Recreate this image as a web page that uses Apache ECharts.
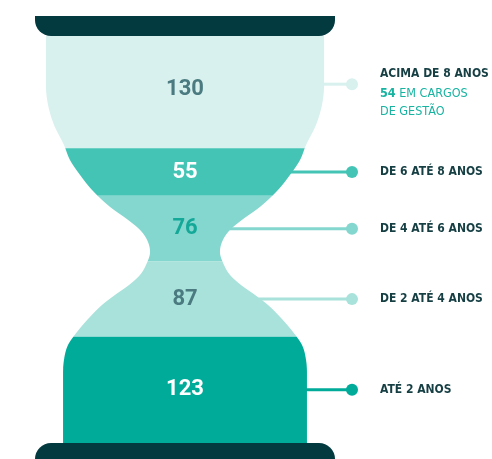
<!DOCTYPE html>
<html>
<head>
<meta charset="utf-8">
<script src="https://cdn.jsdelivr.net/npm/echarts@6/dist/echarts.min.js"></script>
<style>
  html, body { margin: 0; padding: 0; background: #fff; }
  #chart { width: 492px; height: 459px; }
</style>
</head>
<body>
<div id="chart"></div>
<script>
// dados
var faixas = ["ACIMA DE 8 ANOS", "DE 6 ATÉ 8 ANOS", "DE 4 ATÉ 6 ANOS", "DE 2 ATÉ 4 ANOS", "ATÉ 2 ANOS"];
var pessoas = [130, 55, 76, 87, 123];
var cargosGestao = [54, null, null, null, null];

var cores = ["#d8f1ee", "#43c4b5", "#84d7ce", "#a8e2db", "#00ab9a"];
var coresNumero = ["#4b7b80", "#ffffff", "#13a898", "#4b7b80", "#ffffff"];
var corTampa = "#033a40";
var corTexto = "#163f44";
var corDestaque = "#17b3a1";

// contorno da ampulheta: [fração da altura, meia largura / meia largura do grid]
var perfil = [
  [0, 0.927], [0.1204, 0.927], [0.1695, 0.913], [0.2187, 0.873], [0.2678, 0.807],
  [0.3047, 0.767], [0.3415, 0.70], [0.3784, 0.62], [0.4201, 0.5], [0.4521, 0.38],
  [0.4767, 0.3], [0.5012, 0.253], [0.5307, 0.233], [0.5627, 0.26], [0.5872, 0.3],
  [0.6118, 0.373], [0.6364, 0.467], [0.6609, 0.553], [0.6929, 0.64], [0.7273, 0.72],
  [0.7592, 0.78], [0.7961, 0.807], [0.8329, 0.813], [1, 0.813]
];

// tangentes monótonas (Fritsch-Carlson), sem ondulações
var tang = (function () {
  var n = perfil.length, d = [], m = [];
  for (var i = 0; i < n - 1; i++) {
    d.push((perfil[i + 1][1] - perfil[i][1]) / (perfil[i + 1][0] - perfil[i][0]));
  }
  m[0] = d[0];
  m[n - 1] = d[n - 2];
  for (var j = 1; j < n - 1; j++) {
    m[j] = d[j - 1] * d[j] <= 0 ? 0 : (d[j - 1] + d[j]) / 2;
  }
  for (var k = 0; k < n - 1; k++) {
    if (d[k] === 0) { m[k] = 0; m[k + 1] = 0; continue; }
    var a = m[k] / d[k], b = m[k + 1] / d[k], s = a * a + b * b;
    if (s > 9) {
      var tau = 3 / Math.sqrt(s);
      m[k] = tau * a * d[k];
      m[k + 1] = tau * b * d[k];
    }
  }
  return m;
})();

function larguraEm(t) {
  if (t <= 0) return perfil[0][1];
  if (t >= 1) return perfil[perfil.length - 1][1];
  for (var i = 0; i < perfil.length - 1; i++) {
    var p0 = perfil[i], p1 = perfil[i + 1];
    if (t >= p0[0] && t <= p1[0]) {
      var h = p1[0] - p0[0];
      var s = (t - p0[0]) / h;
      var s2 = s * s, s3 = s2 * s;
      return (2 * s3 - 3 * s2 + 1) * p0[1] + (s3 - 2 * s2 + s) * h * tang[i] +
        (-2 * s3 + 3 * s2) * p1[1] + (s3 - s2) * h * tang[i + 1];
    }
  }
  return perfil[perfil.length - 1][1];
}

var total = 0;
var dados = pessoas.map(function (v, i) {
  var d = [total, total + v, i];
  total += v;
  return d;
});

function renderItem(params, api) {
  var i = api.value(2);
  var cs = params.coordSys;
  var cx = api.coord([0, 0])[0];
  var y0 = api.coord([0, api.value(0)])[1];
  var y1 = api.coord([0, api.value(1)])[1];
  var meia = cs.width / 2;
  function mw(y) { return larguraEm((y - cs.y) / cs.height) * meia; }

  var esq = [], dir = [];
  for (var y = y0; y < y1; y += 1) {
    esq.push([cx - mw(y), y]);
    dir.push([cx + mw(y), y]);
  }
  esq.push([cx - mw(y1), y1]);
  dir.push([cx + mw(y1), y1]);
  var pontos = esq.concat(dir.reverse());

  var ym = (y0 + y1) / 2;
  var nota = cargosGestao[i];
  var yl = nota ? ym - 8 : ym;
  var xPonto = cx + 167;
  var xTexto = cx + 195;

  var filhos = [
    { type: "polygon", shape: { points: pontos }, style: { fill: cores[i] } },
    {
      type: "text", x: cx, y: nota ? ym - 3 : ym,
      style: {
        text: String(pessoas[i]), fill: coresNumero[i], align: "center", verticalAlign: "middle",
        fontFamily: "Roboto", fontWeight: "bold", fontSize: 22
      }
    },
    {
      type: "line", shape: { x1: cx + mw(yl) - 2, y1: yl, x2: xPonto, y2: yl },
      style: { stroke: cores[i], lineWidth: 3 }
    },
    { type: "circle", shape: { cx: xPonto, cy: yl, r: 6 }, style: { fill: cores[i] } }
  ];

  var fonte = "'DejaVu Sans Condensed', 'Liberation Sans Narrow', sans-serif";
  if (nota) {
    filhos.push({
      type: "text", x: xTexto, y: ym,
      style: {
        text: "{t|" + faixas[i] + "}\n{n|" + nota + "}{g| EM CARGOS}\n{g|DE GESTÃO}",
        align: "left", verticalAlign: "middle",
        rich: {
          t: { fill: corTexto, fontFamily: fonte, fontSize: 12, fontWeight: "bold", lineHeight: 21 },
          n: { fill: corDestaque, fontFamily: fonte, fontSize: 12.5, fontWeight: "bold", lineHeight: 19 },
          g: { fill: corDestaque, fontFamily: fonte, fontSize: 12.5, lineHeight: 18 }
        }
      }
    });
  } else {
    filhos.push({
      type: "text", x: xTexto, y: yl,
      style: {
        text: faixas[i], fill: corTexto, align: "left", verticalAlign: "middle",
        fontFamily: fonte, fontSize: 12, fontWeight: "bold"
      }
    });
  }

  // tampas da ampulheta
  if (i === 0) {
    filhos.push({
      type: "rect", shape: { x: cs.x, y: y0 - 20, width: cs.width, height: 20, r: [0, 0, 16, 16] },
      style: { fill: corTampa }
    });
  }
  if (i === pessoas.length - 1) {
    filhos.push({
      type: "rect", shape: { x: cs.x, y: y1, width: cs.width, height: 20, r: [16, 16, 0, 0] },
      style: { fill: corTampa }
    });
  }
  return { type: "group", children: filhos };
}

var myChart = echarts.init(document.getElementById("chart"));
var option = {
  animation: false,
  grid: { left: 35, width: 300, top: 36, bottom: 16 },
  xAxis: { type: "value", min: -1, max: 1, show: false },
  yAxis: { type: "value", inverse: true, min: 0, max: total, show: false },
  series: [
    {
      type: "custom",
      renderItem: renderItem,
      data: dados,
      clip: false
    }
  ]
};
myChart.setOption(option);
</script>
</body>
</html>
